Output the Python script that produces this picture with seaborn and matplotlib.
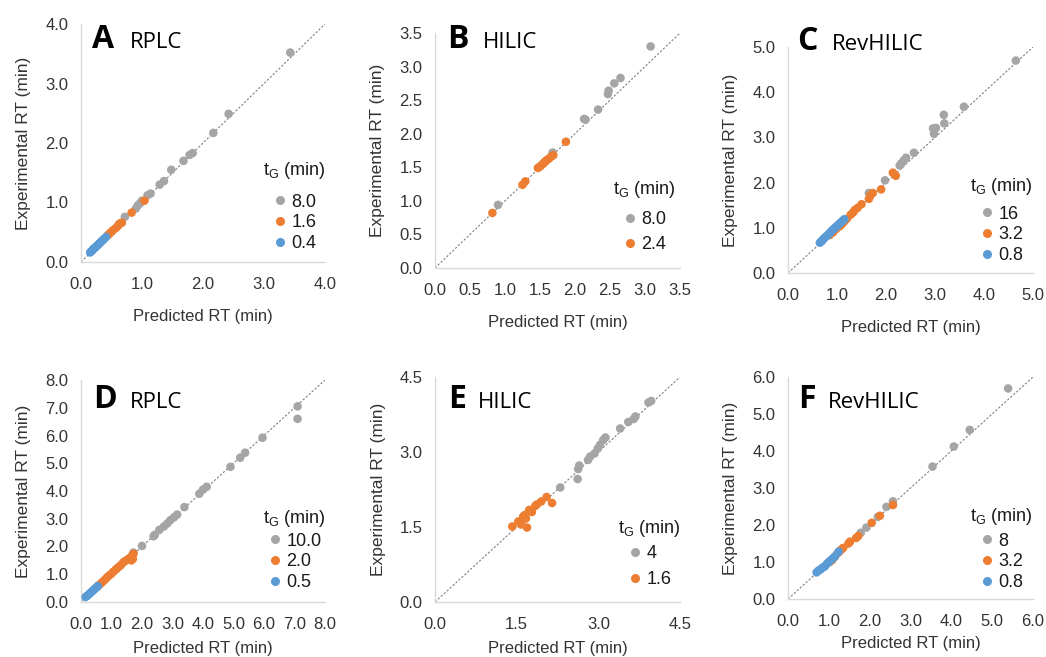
import numpy as np
import pandas as pd
import matplotlib
matplotlib.use("Agg")
import matplotlib.pyplot as plt
import seaborn as sns

sns.set_style("white")
plt.rcParams["font.family"] = ["Liberation Sans", "DejaVu Sans"]
plt.rcParams["mathtext.fontset"] = "custom"
plt.rcParams["mathtext.rm"] = "Liberation Sans"

GRAY, ORANGE, BLUE = "#A5A5A5", "#ED7D31", "#5B9BD5"

# ---- Panel A: RPLC (tG = 8.0 / 1.6 / 0.4 min) ----
a_groups = ["8.0", "1.6", "0.4"]
a_pred_80 = [3.43, 2.42, 2.17, 1.83, 1.78, 1.68, 1.48, 1.36, 1.29, 1.14, 1.09, 1.00, 0.97, 0.93, 0.72, 0.90]
a_exp_80 = [3.52, 2.49, 2.17, 1.83, 1.80, 1.70, 1.55, 1.36, 1.30, 1.15, 1.12, 1.03, 0.99, 0.95, 0.76, 0.90]
a_pred_16 = [1.04, 0.83, 0.67, 0.64, 0.62, 0.60, 0.57, 0.52, 0.49, 0.46, 0.44]
a_exp_16 = [1.03, 0.83, 0.66, 0.65, 0.63, 0.60, 0.57, 0.53, 0.50, 0.47, 0.45]
a_pred_04 = [0.15, 0.17, 0.19, 0.20, 0.22, 0.24, 0.26, 0.28, 0.30, 0.32, 0.34, 0.36, 0.38, 0.41]
a_exp_04 = [0.16, 0.18, 0.20, 0.22, 0.23, 0.25, 0.27, 0.29, 0.31, 0.33, 0.35, 0.37, 0.39, 0.42]

# ---- Panel B: HILIC (tG = 8.0 / 2.4 min) ----
b_groups = ["8.0", "2.4"]
b_pred_80 = [3.08, 2.65, 2.56, 2.48, 2.47, 2.33, 2.13, 2.15, 1.68, 0.90]
b_exp_80 = [3.30, 2.83, 2.75, 2.64, 2.59, 2.36, 2.22, 2.21, 1.72, 0.94]
b_pred_24 = [1.87, 1.47, 1.50, 1.52, 1.55, 1.56, 1.58, 1.60, 1.63, 1.66, 1.69, 1.25, 1.29, 0.82]
b_exp_24 = [1.88, 1.49, 1.51, 1.53, 1.56, 1.57, 1.59, 1.61, 1.63, 1.66, 1.68, 1.24, 1.29, 0.82]

# ---- Panel C: RevHILIC (tG = 16 / 3.2 / 0.8 min) ----
c_groups = ["16", "3.2", "0.8"]
c_pred_16 = [4.65, 3.59, 3.18, 3.19, 2.96, 3.02, 2.98, 2.57, 2.41, 2.36, 2.31, 2.28, 1.98, 1.65, 1.70]
c_exp_16 = [4.70, 3.68, 3.50, 3.31, 3.20, 3.21, 3.08, 2.66, 2.55, 2.49, 2.42, 2.38, 2.05, 1.77, 1.75]
c_pred_32 = [2.20, 2.14, 1.90, 1.73, 1.68, 1.65, 1.50, 1.42, 1.36, 1.33, 1.28, 1.20, 1.15, 1.10, 1.05, 0.98, 0.92, 0.85]
c_exp_32 = [2.15, 2.22, 1.85, 1.77, 1.71, 1.64, 1.52, 1.44, 1.39, 1.34, 1.29, 1.20, 1.14, 1.08, 1.03, 0.97, 0.90, 0.84]
c_pred_08 = [0.65, 0.68, 0.70, 0.73, 0.76, 0.79, 0.82, 0.85, 0.88, 0.91, 0.94, 0.97, 1.00, 1.03, 1.06, 1.09, 1.12, 1.15]
c_exp_08 = [0.67, 0.70, 0.72, 0.76, 0.79, 0.82, 0.85, 0.88, 0.92, 0.95, 0.98, 1.01, 1.04, 1.07, 1.10, 1.13, 1.16, 1.19]

# ---- Panel D: RPLC (tG = 10.0 / 2.0 / 0.5 min) ----
d_groups = ["10.0", "2.0", "0.5"]
d_pred_100 = [7.10, 7.10, 5.95, 5.38, 5.22, 4.90, 4.12, 4.00, 3.88, 3.39, 3.15, 3.05, 2.93, 2.83, 2.72, 2.57, 2.42, 2.38, 2.00, 1.72]
d_exp_100 = [7.05, 6.60, 5.92, 5.38, 5.20, 4.87, 4.15, 4.05, 3.90, 3.42, 3.15, 3.05, 2.95, 2.83, 2.72, 2.60, 2.42, 2.37, 2.02, 1.78]
d_pred_20 = [0.55, 0.62, 0.70, 0.78, 0.85, 0.92, 1.00, 1.07, 1.15, 1.22, 1.30, 1.38, 1.45, 1.55, 1.62, 1.68, 1.72, 1.65, 1.70]
d_exp_20 = [0.57, 0.64, 0.72, 0.80, 0.88, 0.95, 1.02, 1.10, 1.18, 1.25, 1.32, 1.42, 1.48, 1.55, 1.60, 1.68, 1.74, 1.50, 1.55]
d_pred_05 = [0.15, 0.20, 0.25, 0.30, 0.35, 0.40, 0.45, 0.50, 0.55]
d_exp_05 = [0.18, 0.22, 0.27, 0.32, 0.37, 0.42, 0.47, 0.52, 0.57]

# ---- Panel E: HILIC (tG = 4 / 1.6 min) ----
e_groups = ["4", "1.6"]
e_pred_4 = [3.97, 3.92, 3.68, 3.65, 3.55, 3.40, 3.13, 3.09, 3.03, 2.99, 2.93, 2.85, 2.81, 2.65, 2.63, 2.62, 2.30]
e_exp_4 = [4.02, 3.99, 3.71, 3.66, 3.60, 3.47, 3.29, 3.24, 3.14, 3.07, 2.97, 2.91, 2.84, 2.73, 2.66, 2.46, 2.29]
e_pred_16 = [2.15, 2.05, 1.95, 1.87, 1.84, 1.73, 1.65, 1.62, 1.67, 1.53, 1.69, 1.42, 1.58, 1.78]
e_exp_16 = [1.98, 2.10, 2.01, 1.95, 1.92, 1.84, 1.74, 1.71, 1.67, 1.61, 1.49, 1.51, 1.55, 1.80]

# ---- Panel F: RevHILIC (tG = 8 / 3.2 / 0.8 min) ----
f_groups = ["8", "3.2", "0.8"]
f_pred_8 = [5.39, 4.45, 4.06, 3.54, 2.57, 2.41, 2.20, 1.92, 1.78, 1.20]
f_exp_8 = [5.69, 4.57, 4.12, 3.58, 2.64, 2.49, 2.22, 1.93, 1.79, 1.22]
f_pred_32 = [2.57, 2.25, 2.05, 1.72, 1.67, 1.52, 1.48, 1.35, 1.30, 1.25, 1.15, 1.08, 1.02]
f_exp_32 = [2.54, 2.25, 2.06, 1.70, 1.65, 1.55, 1.50, 1.38, 1.33, 1.27, 1.15, 1.05, 1.00]
f_pred_08 = [1.24, 1.15, 1.10, 1.05, 1.00, 0.95, 0.90, 0.85, 0.80, 0.75, 0.70]
f_exp_08 = [1.28, 1.15, 1.10, 1.05, 1.00, 0.95, 0.88, 0.85, 0.80, 0.77, 0.72]


def frame(groups, preds, exps):
    rows = []
    for g, p, e in zip(groups, preds, exps):
        for xv, yv in zip(p, e):
            rows.append((g, xv, yv))
    return pd.DataFrame(rows, columns=["tG", "pred", "exp"])


# rect: axes box in pixels (left, top, right, bottom)
# tag: (letter x, mode x, baseline y) in pixels
# leg: legend anchor (right, bottom) in pixels, label spacing, title gap
# xpad: padding between tick labels and the x-axis title
panels = [
    dict(letter="A", mode="RPLC", df=frame(a_groups, [a_pred_80, a_pred_16, a_pred_04], [a_exp_80, a_exp_16, a_exp_04]),
         groups=a_groups, colors=[GRAY, ORANGE, BLUE], lim=4.0, step=1.0,
         rect=[81, 24, 325, 262], tag=(92, 130, 48), leg=(334, 261, 0.2, 9), xpad=12),
    dict(letter="B", mode="HILIC", df=frame(b_groups, [b_pred_80, b_pred_24], [b_exp_80, b_exp_24]),
         groups=b_groups, colors=[GRAY, ORANGE], lim=3.5, step=0.5,
         rect=[435, 33, 680, 268], tag=(447, 483, 48), leg=(684, 262, 0.45, 8), xpad=12),
    dict(letter="C", mode="RevHILIC", df=frame(c_groups, [c_pred_16, c_pred_32, c_pred_08], [c_exp_16, c_exp_32, c_exp_08]),
         groups=c_groups, colors=[GRAY, ORANGE, BLUE], lim=5.0, step=1.0,
         rect=[788, 47, 1033, 273], tag=(797, 832, 50), leg=(1041, 273, 0.2, 6), xpad=12),
    dict(letter="D", mode="RPLC", df=frame(d_groups, [d_pred_100, d_pred_20, d_pred_05], [d_exp_100, d_exp_20, d_exp_05]),
         groups=d_groups, colors=[GRAY, ORANGE, BLUE], lim=8.0, step=1.0,
         rect=[81, 380, 325, 602], tag=(93, 130, 408), leg=(334, 600, 0.2, 3), xpad=6),
    dict(letter="E", mode="HILIC", df=frame(e_groups, [e_pred_4, e_pred_16], [e_exp_4, e_exp_16]),
         groups=e_groups, colors=[GRAY, ORANGE], lim=4.5, step=1.5,
         rect=[435, 377, 680, 602], tag=(448, 478, 408), leg=(689, 597, 0.5, 4), xpad=6),
    dict(letter="F", mode="RevHILIC", df=frame(f_groups, [f_pred_8, f_pred_32, f_pred_08], [f_exp_8, f_exp_32, f_exp_08]),
         groups=f_groups, colors=[GRAY, ORANGE, BLUE], lim=6.0, step=1.0,
         rect=[788, 377, 1033, 599], tag=(798, 828, 408), leg=(1041, 600, 0.2, 4), xpad=5),
]

W, H = 1046, 657
fig = plt.figure(figsize=(W / 100, H / 100), dpi=100)
fig.patch.set_facecolor("white")
TXT = "#333333"

for p in panels:
    x0, y0, x1, y1 = p["rect"]
    ax = fig.add_axes([x0 / W, 1 - y1 / H, (x1 - x0) / W, (y1 - y0) / H])
    ax.set_facecolor("white")
    ax.axline((0, 0), slope=1, color="#7F7F7F", lw=0.8, ls=(0, (2, 1.6)), zorder=1)
    sns.scatterplot(data=p["df"], x="pred", y="exp", hue="tG", hue_order=p["groups"],
                    palette=dict(zip(p["groups"], p["colors"])), s=38, linewidth=0,
                    ax=ax, zorder=3)
    lim, step = p["lim"], p["step"]
    ticks = np.arange(0, lim + step / 2, step)
    ax.set_xlim(0, lim)
    ax.set_ylim(0, lim)
    ax.set_xticks(ticks)
    ax.set_yticks(ticks)
    ax.set_xticklabels([f"{t:.1f}" for t in ticks])
    ax.set_yticklabels([f"{t:.1f}" for t in ticks])
    ax.tick_params(axis="x", length=0, labelsize=12, colors=TXT, pad=11)
    ax.tick_params(axis="y", length=0, labelsize=12, colors=TXT, pad=9)
    for side in ("top", "right"):
        ax.spines[side].set_visible(False)
    for side in ("left", "bottom"):
        ax.spines[side].set_color("#D9D9D9")
        ax.spines[side].set_linewidth(1.0)
    ax.set_xlabel("Predicted RT (min)", fontsize=12, color=TXT, labelpad=p["xpad"])
    ax.set_ylabel("Experimental RT (min)", fontsize=12.5, color=TXT, labelpad=10)

    # legend anchored by its lower-right corner
    lx, ly, lsp, gap = p["leg"]
    handles, labels = ax.get_legend_handles_labels()
    for h in handles:
        h.set_markersize(6.5)
    leg = ax.legend(handles, labels, title="t$_\\mathrm{G}$ (min)", frameon=False,
                    loc="lower right", bbox_to_anchor=(lx / W, 1 - ly / H),
                    bbox_transform=fig.transFigure, fontsize=13, title_fontsize=13,
                    handletextpad=0.1, handlelength=1.0, labelspacing=lsp, borderpad=0)
    leg._legend_box.align = "center"
    leg._legend_box.sep = gap
    for t in leg.get_texts():
        t.set_color("#1A1A1A")
    leg.get_title().set_color("#1A1A1A")

    tx, mx, by = p["tag"]
    fig.text(tx / W, 1 - by / H, p["letter"], fontsize=23, fontweight="bold",
             family=["Open Sans", "DejaVu Sans"], va="baseline", ha="left", color="black")
    fig.text(mx / W, 1 - by / H, p["mode"], fontsize=16,
             family=["Open Sans", "DejaVu Sans"], va="baseline", ha="left", color="black")

fig.savefig("out.png", dpi=100)
